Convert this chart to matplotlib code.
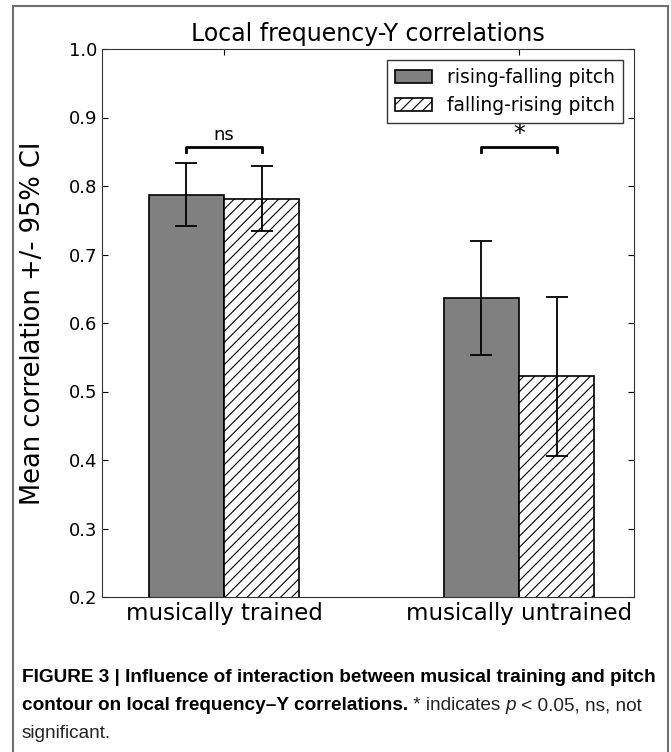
import matplotlib.pyplot as plt
from matplotlib.lines import Line2D
import numpy as np

# Data
groups = ['musically trained', 'musically untrained']
series = ['rising-falling pitch', 'falling-rising pitch']
rising_falling = [0.787, 0.636]
falling_rising = [0.781, 0.523]
rf_ci_low = [0.741, 0.553]
rf_ci_high = [0.834, 0.720]
fr_ci_low = [0.735, 0.406]
fr_ci_high = [0.829, 0.638]
sig_labels = ['ns', '*']
yticks = [0.2, 0.3, 0.4, 0.5, 0.6, 0.7, 0.8, 0.9, 1.0]

fig = plt.figure(figsize=(6.71, 7.52), dpi=100)
ax = fig.add_axes([102 / 671, 1 - 597 / 752, 532 / 671, 548 / 752])

x = np.arange(len(groups))
w = 0.255
rf_err = [np.subtract(rising_falling, rf_ci_low), np.subtract(rf_ci_high, rising_falling)]
fr_err = [np.subtract(falling_rising, fr_ci_low), np.subtract(fr_ci_high, falling_rising)]
err_style = dict(elinewidth=1.3, capthick=1.3, ecolor='black')

plt.rcParams['hatch.linewidth'] = 0.8
ax.bar(x - w / 2, rising_falling, w, yerr=rf_err, color='#808080', edgecolor='black',
       linewidth=1.2, capsize=8, error_kw=err_style, label=series[0])
ax.bar(x + w / 2, falling_rising, w, yerr=fr_err, color='white', edgecolor='black',
       linewidth=1.2, hatch='///', capsize=8, error_kw=err_style, label=series[1])

# Significance brackets
for i, lab in enumerate(sig_labels):
    ax.plot([x[i] - w / 2, x[i] - w / 2, x[i] + w / 2, x[i] + w / 2],
            [0.850, 0.857, 0.857, 0.850], color='black', lw=2)
    if lab == 'ns':
        ax.text(x[i], 0.862, lab, ha='center', va='bottom', fontsize=13)
    else:
        ax.text(x[i], 0.858, lab, ha='center', va='bottom', fontsize=17)

ax.set_xlim(-0.414, 1.39)
ax.set_ylim(0.2, 1.0)
ax.set_yticks(yticks)
ax.set_yticklabels(['%.1f' % t for t in yticks])
ax.set_xticks(x)
ax.set_xticklabels(groups, fontsize=16.5)
ax.tick_params(axis='y', labelsize=13)
ax.tick_params(direction='in', top=True, right=True, length=4)
for s in ax.spines.values():
    s.set_color('#333333')

ax.set_title('Local frequency-Y correlations', fontsize=17)
ax.set_ylabel('Mean correlation +/- 95% CI', fontsize=18.5, labelpad=16)

ax.legend(loc='upper right', fontsize=13.5, fancybox=False, edgecolor='#333333',
          framealpha=1, borderaxespad=0.6)

# Border around the figure panel (open at the bottom)
border = dict(color='#707070', lw=1.5, transform=fig.transFigure)
fig.add_artist(Line2D([13 / 671, 13 / 671], [0, 1 - 6 / 752], **border))
fig.add_artist(Line2D([13 / 671, 668 / 671], [1 - 6 / 752, 1 - 6 / 752], **border))
fig.add_artist(Line2D([668 / 671, 668 / 671], [0, 1 - 6 / 752], **border))

# Caption
cap_font = ['Liberation Sans Narrow', 'Liberation Sans', 'DejaVu Sans']
cap_size = 13.7
fig.text(22 / 671, 1 - 678 / 752,
         'FIGURE 3 | Influence of interaction between musical training and pitch',
         fontsize=cap_size, fontweight='bold', family=cap_font, va='center')
t2 = fig.text(22 / 671, 1 - 706 / 752, 'contour on local frequency\u2013Y correlations.',
              fontsize=cap_size, fontweight='bold', family=cap_font, va='center')
a1 = ax.annotate(' * indicates ', xy=(1, 0), xycoords=t2, va='bottom',
                 fontsize=cap_size, family=cap_font, color='#222222', annotation_clip=False)
a2 = ax.annotate('p', xy=(1, 0), xycoords=a1, va='bottom', fontsize=cap_size,
                 family=cap_font, style='italic', color='#222222', annotation_clip=False)
ax.annotate(' < 0.05, ns, not', xy=(1, 0), xycoords=a2, va='bottom', fontsize=cap_size,
            family=cap_font, color='#222222', annotation_clip=False)
fig.text(22 / 671, 1 - 733 / 752, 'significant.', fontsize=cap_size, family=cap_font,
         color='#222222', va='center')

plt.savefig('out.png', dpi=100)
